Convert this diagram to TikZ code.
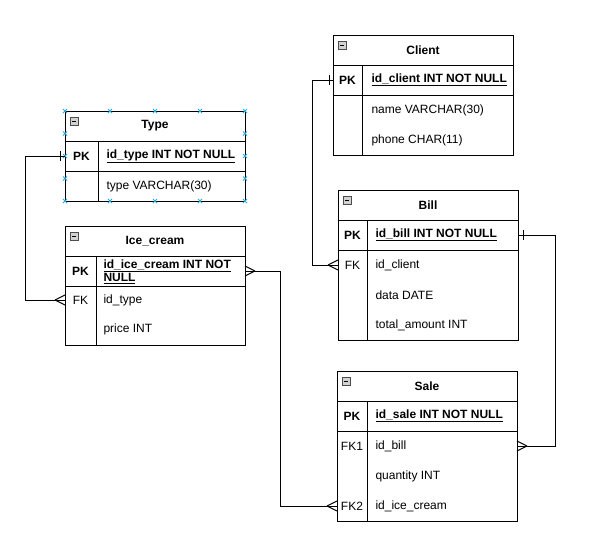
\documentclass[tikz,border=0pt]{standalone}
\usepackage{fontspec}
\setmainfont{Liberation Sans}
\usepackage{tikz}
\usepackage{xcolor}
\definecolor{handleblue}{RGB}{41,170,225}
\tikzset{
  tbl/.style={draw, inner sep=0pt, outer sep=0pt, minimum width=180pt},
  head/.style={tbl, minimum height=30pt, font=\fontsize{12}{13}\selectfont\bfseries},
  keytxt/.style={inner sep=0pt, font=\fontsize{12}{13}\selectfont},
  pkkey/.style={inner sep=0pt, font=\fontsize{12}{13}\selectfont\bfseries},
  fldtxt/.style={anchor=west, inner sep=0pt, align=left, font=\fontsize{12}{13}\selectfont},
  pkfld/.style={fldtxt, font=\fontsize{12}{13}\selectfont\bfseries},
  icon/.style={fill=gray!35, draw=gray!60!black, line width=0.8pt},
  handle/.style={handleblue, line width=0.8pt}
}

\begin{document}
\begin{tikzpicture}[x=1pt, y=-1pt, line width=1pt]
\useasboundingbox (0,0) rectangle (589,550);
% Type
\node[head] (typehead) at (155,126) {Type};
\node[tbl, minimum height=30pt] (typepk) at (155,156) {};
\node[tbl, minimum height=30pt] (typebody) at (155,186) {};
\draw (98,141) -- (98,201);
\node[pkkey] (typepkkey) at (81.5,156) {PK};
\node[pkfld] (typepkfld) at (106,156) {\underline{id\_type INT NOT NULL}};
\node[fldtxt] (typetype) at (106,186) {type VARCHAR(30)};
% Ice_cream
\node[head] (icehead) at (155,241) {Ice\_cream};
\node[tbl, minimum height=30pt] (icepk) at (155,271) {};
\node[tbl, minimum height=59pt] (icebody) at (155,315.5) {};
\draw (96,256) -- (96,345);
\node[pkkey] (icepkkey) at (80.5,271) {PK};
\node[pkfld] (icepkfld) at (103,271.5) {\underline{id\_ice\_cream INT NOT}\\\underline{NULL}};
\node[keytxt] (icefk) at (80.5,300) {FK};
\node[fldtxt] (iceidtype) at (103,300) {id\_type};
\node[fldtxt] (iceprice) at (103,329) {price INT};
% Client
\node[head] (clienthead) at (423,50) {Client};
\node[tbl, minimum height=30pt] (clientpk) at (423,80) {};
\node[tbl, minimum height=60pt] (clientbody) at (423,125) {};
\draw (362,65) -- (362,155);
\node[pkkey] (clientpkkey) at (347.5,80) {PK};
\node[pkfld] (clientpkfld) at (371,80) {\underline{id\_client INT NOT NULL}};
\node[fldtxt] (clientname) at (371,110) {name VARCHAR(30)};
\node[fldtxt] (clientphone) at (371,140) {phone CHAR(11)};
% Bill
\node[head] (billhead) at (428,205) {Bill};
\node[tbl, minimum height=30pt] (billpk) at (428,235) {};
\node[tbl, minimum height=90pt] (billbody) at (428,295) {};
\draw (367,220) -- (367,340);
\node[pkkey] (billpkkey) at (352.5,235) {PK};
\node[pkfld] (billpkfld) at (375,235) {\underline{id\_bill INT NOT NULL}};
\node[keytxt] (billfk) at (352.5,265) {FK};
\node[fldtxt] (billclient) at (375,265) {id\_client};
\node[fldtxt] (billdata) at (375,295) {data DATE};
\node[fldtxt] (billtotal) at (375,325) {total\_amount INT};
% Sale
\node[head] (salehead) at (427,386) {Sale};
\node[tbl, minimum height=30pt] (salepk) at (427,416) {};
\node[tbl, minimum height=90pt] (salebody) at (427,476) {};
\draw (367,401) -- (367,521);
\node[pkkey] (salepkkey) at (352,416) {PK};
\node[pkfld] (salepkfld) at (375,416) {\underline{id\_sale INT NOT NULL}};
\node[keytxt] (salefk1) at (352,446) {FK1};
\node[fldtxt] (salebill) at (375,446) {id\_bill};
\node[fldtxt] (salequantity) at (375,476) {quantity INT};
\node[keytxt] (salefk2) at (352,506) {FK2};
\node[fldtxt] (saleicecream) at (375,506) {id\_ice\_cream};
% collapse icons
\foreach \x/\y in {65/111,65/226,333/35,338/190,337/371}
	{
	\filldraw[icon] (\x+5,\y+6) rectangle (\x+13,\y+14);
	\draw[line width=0.8pt] (\x+7,\y+10) -- (\x+11,\y+10);
	}
% selection handles
\foreach \x in {65,110,155,200,245}
	{
	\foreach \y in {111,201}
		{
		\draw[handle] (\x-2,\y-2) -- (\x+2,\y+2) (\x-2,\y+2) -- (\x+2,\y-2);
		}
	}
\foreach \x in {65,245}
	{
	\foreach \y in {133.5,156,178.5}
		{
		\draw[handle] (\x-2,\y-2) -- (\x+2,\y+2) (\x-2,\y+2) -- (\x+2,\y-2);
		}
	}
% relations
\coordinate (icefkend) at (icefk -| icebody.west);
\coordinate (billfkend) at (billfk -| billbody.west);
\coordinate (salefk1end) at (salefk1 -| salebody.east);
\coordinate (salefk2end) at (salefk2 -| salebody.west);
\draw (typepk.west) -- ++(-40,0) |- (icefkend);
\draw (clientpk.west) -- ++(-21,0) |- (billfkend);
\draw (billpk.east) -- ++(37,0) |- (salefk1end);
\draw (icepk.east) -- ++(35,0) |- (salefk2end);
% one ends
\draw (typepk.west) ++(-5,-5) -- ++(0,10);
\draw (clientpk.west) ++(-4,-5) -- ++(0,10);
\draw (billpk.east) ++(5,-5) -- ++(0,10);
% many ends
\draw (icefkend) ++(-10,0) -- ++(10,-5) (icefkend) ++(-10,0) -- ++(10,5);
\draw (billfkend) ++(-10,0) -- ++(10,-5) (billfkend) ++(-10,0) -- ++(10,5);
\draw (salefk2end) ++(-10,0) -- ++(10,-5) (salefk2end) ++(-10,0) -- ++(10,5);
\draw (salefk1end) ++(10,0) -- ++(-10,-5) (salefk1end) ++(10,0) -- ++(-10,5);
\draw (icepk.east) ++(10,0) -- ++(-10,-5) (icepk.east) ++(10,0) -- ++(-10,5);
\end{tikzpicture}
\end{document}
